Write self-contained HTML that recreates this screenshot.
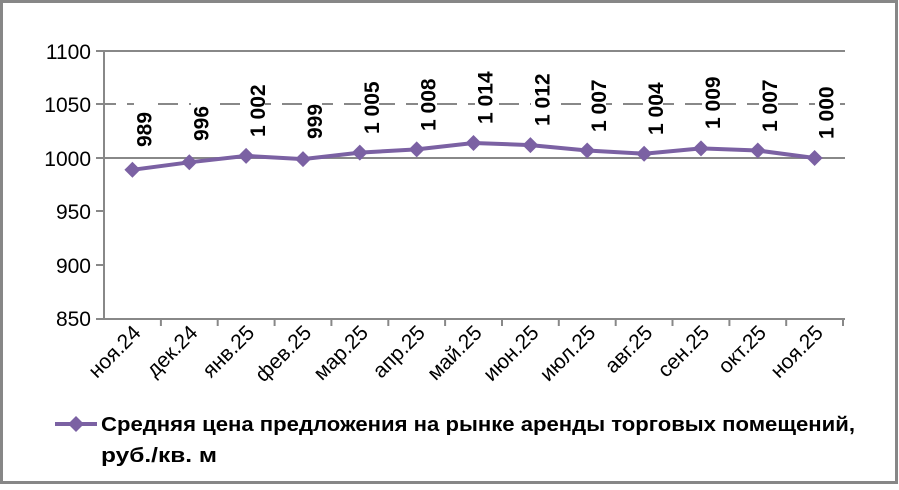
<!DOCTYPE html>
<html><head><meta charset="utf-8"><style>body{margin:0;background:#fff}</style></head><body>
<svg width="899" height="485" xmlns="http://www.w3.org/2000/svg" font-family="Liberation Sans, DejaVu Sans, sans-serif">
<rect x="1.5" y="1.5" width="895" height="481" fill="#fff" stroke="#878787" stroke-width="3"/>
<g stroke="#888" stroke-width="2">
<line x1="96" y1="51" x2="845" y2="51"/>
<line x1="96" y1="104" x2="845" y2="104" stroke-dasharray="20,11"/>
<line x1="96" y1="158" x2="845" y2="158"/>
<line x1="104" y1="51" x2="104" y2="319"/>
<line x1="96" y1="319" x2="845" y2="319"/>
<line x1="96" y1="211" x2="104" y2="211"/><line x1="96" y1="265" x2="104" y2="265"/>
<path d="M160.9 319v7M217.7 319v7M274.6 319v7M331.4 319v7M388.3 319v7M445.1 319v7M502 319v7M558.8 319v7M615.7 319v7M672.5 319v7M729.4 319v7M786.2 319v7M843 319v7"/>
</g>
<g font-size="21" text-anchor="end" fill="#000">
<text x="91" y="59">1100</text><text x="91" y="112">1050</text><text x="91" y="166">1000</text>
<text x="91" y="219">950</text><text x="91" y="273">900</text><text x="91" y="326">850</text>
</g>
<g fill="#fff">
<rect x="134" y="98" width="18" height="20"/>
<rect x="191" y="98" width="18" height="20"/>
<rect x="247" y="98" width="18" height="20"/>
<rect x="304" y="98" width="18" height="20"/>
<rect x="361" y="98" width="18" height="20"/>
<rect x="418" y="98" width="18" height="20"/>
<rect x="475" y="98" width="18" height="20"/>
<rect x="531" y="98" width="18" height="20"/>
<rect x="588" y="98" width="18" height="20"/>
<rect x="645" y="98" width="18" height="20"/>
<rect x="702" y="98" width="18" height="20"/>
<rect x="759" y="98" width="18" height="20"/>
<rect x="815" y="98" width="18" height="20"/>
</g>
<polyline points="132.4,169.8 189.3,162.3 246.1,155.9 303,159.1 359.8,152.6 416.7,149.4 473.5,143 530.4,145.1 587.2,150.5 644.1,153.7 701,148.4 757.8,150.5 814.6,158" fill="none" stroke="#7b61a3" stroke-width="4"/>
<g fill="#7b61a3">
<path d="M132.4 161.8l8 8-8 8-8-8z M189.3 154.3l8 8-8 8-8-8z M246.1 147.9l8 8-8 8-8-8z M303 151.1l8 8-8 8-8-8z M359.8 144.6l8 8-8 8-8-8z M416.7 141.4l8 8-8 8-8-8z M473.5 135l8 8-8 8-8-8z M530.4 137.1l8 8-8 8-8-8z M587.2 142.5l8 8-8 8-8-8z M644.1 145.7l8 8-8 8-8-8z M701 140.4l8 8-8 8-8-8z M757.8 142.5l8 8-8 8-8-8z M814.6 150l8 8-8 8-8-8z"/>
</g>
<g font-size="21" font-weight="bold">
<text transform="translate(151.4,147) rotate(-90)">989</text>
<text transform="translate(208.3,141) rotate(-90)">996</text>
<text transform="translate(265.1,137) rotate(-90)">1 002</text>
<text transform="translate(322,139) rotate(-90)">999</text>
<text transform="translate(378.8,134) rotate(-90)">1 005</text>
<text transform="translate(435.7,131) rotate(-90)">1 008</text>
<text transform="translate(492.5,124) rotate(-90)">1 014</text>
<text transform="translate(549.4,126) rotate(-90)">1 012</text>
<text transform="translate(606.2,132) rotate(-90)">1 007</text>
<text transform="translate(663.1,135) rotate(-90)">1 004</text>
<text transform="translate(720,129) rotate(-90)">1 009</text>
<text transform="translate(776.8,132) rotate(-90)">1 007</text>
<text transform="translate(833.6,139) rotate(-90)">1 000</text>
</g>
<g font-size="21" text-anchor="end">
<text transform="translate(142,334) rotate(-45)">ноя.24</text>
<text transform="translate(198.9,334) rotate(-45)">дек.24</text>
<text transform="translate(255.7,334) rotate(-45)">янв.25</text>
<text transform="translate(312.6,334) rotate(-45)">фев.25</text>
<text transform="translate(369.4,334) rotate(-45)">мар.25</text>
<text transform="translate(426.3,334) rotate(-45)">апр.25</text>
<text transform="translate(483.1,334) rotate(-45)">май.25</text>
<text transform="translate(540,334) rotate(-45)">июн.25</text>
<text transform="translate(596.8,334) rotate(-45)">июл.25</text>
<text transform="translate(653.7,334) rotate(-45)">авг.25</text>
<text transform="translate(710.6,334) rotate(-45)">сен.25</text>
<text transform="translate(767.4,334) rotate(-45)">окт.25</text>
<text transform="translate(824.2,334) rotate(-45)">ноя.25</text>
</g>
<line x1="55" y1="424" x2="97" y2="424" stroke="#7b61a3" stroke-width="4"/>
<path d="M76 416l8 8-8 8-8-8z" fill="#7b61a3"/>
<g font-size="20" font-weight="bold"><text x="101" y="431" textLength="754" lengthAdjust="spacingAndGlyphs">Средняя цена предложения на рынке аренды торговых помещений,</text><text x="101" y="462" textLength="116" lengthAdjust="spacingAndGlyphs">руб./кв. м</text></g>
</svg>
</body></html>
